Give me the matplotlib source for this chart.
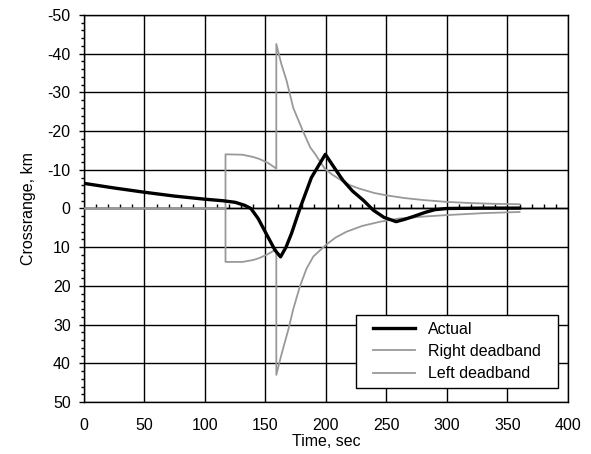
import matplotlib
matplotlib.use("Agg")
import matplotlib.pyplot as plt
from matplotlib.ticker import MultipleLocator, FixedLocator, NullFormatter
from matplotlib.legend_handler import HandlerLine2D

plt.rcParams['font.family'] = ['Liberation Sans', 'DejaVu Sans']
plt.rcParams['axes.unicode_minus'] = False

# Actual crossrange
t_actual = [0, 25, 50, 75, 100, 115, 125, 133, 138, 144, 152, 158, 162.5, 167, 171.6,
            178.5, 188, 199.5, 207, 214, 222, 231, 239, 248, 258, 265, 272, 282, 290,
            300, 330, 360]
v_actual = [-6.5, -5.3, -4.2, -3.2, -2.4, -2.0, -1.6, -0.8, 0.0, 2.6, 7.3, 10.8, 12.5, 10.0, 6.4,
            0.0, -8.0, -14.0, -10.5, -7.3, -4.5, -2.1, 0.4, 2.3, 3.4, 2.8, 2.1, 1.0, 0.3,
            0.0, -0.1, -0.1]

# Right deadband
t_right = [0, 117, 117, 131, 140, 145, 152, 159, 159, 163, 167.5, 173, 181, 187, 191, 199,
           205, 212, 220, 228, 240, 250, 265, 280, 300, 320, 340, 360]
v_right = [0, 0, -14.0, -13.9, -13.3, -12.8, -11.8, -10.3, -42.5, -37.5, -33.0, -26.0, -20.0,
           -15.8, -14.1, -10.3, -8.8, -7.4, -6.0, -5.1, -4.0, -3.4, -2.7, -2.2, -1.7, -1.4,
           -1.2, -1.1]

# Left deadband
t_left = [0, 117, 117, 131, 140, 145, 152, 159, 159, 163, 169, 173, 178.5, 184, 189.6, 200,
          208, 217, 230, 245, 260, 280, 300, 330, 360]
v_left = [0, 0, 13.8, 13.8, 13.3, 12.8, 11.8, 10.5, 43.0, 38.0, 31.2, 26.0, 20.1, 15.5, 12.4,
          9.4, 7.5, 6.0, 4.5, 3.4, 2.6, 2.1, 1.7, 1.2, 0.9]

x_ticks = [0, 50, 100, 150, 200, 250, 300, 350, 400]
y_ticks = [-50, -40, -30, -20, -10, 0, 10, 20, 30, 40, 50]

fig = plt.figure(figsize=(5.91, 4.54), dpi=100)
ax = fig.add_axes([0.142, 0.1145, 0.819, 0.8525])

ax.set_xlim(0, 400)
ax.set_ylim(50, -50)
ax.set_xticks(x_ticks)
ax.set_yticks(y_ticks)
ax.yaxis.set_minor_locator(MultipleLocator(2))
ax.grid(True, which='major', color='black', linewidth=1.0)
ax.set_axisbelow(True)

for s in ax.spines.values():
    s.set_linewidth(1.0)
    s.set_color('black')

ax.tick_params(axis='x', which='both', length=0, labelsize=11.5, pad=11.5, colors='black')
ax.tick_params(axis='y', which='major', direction='out', length=3.5, width=1, labelsize=11.5, pad=6)
ax.tick_params(axis='y', which='minor', direction='out', length=2.5, width=1)

# zero axis line with minor ticks
ax.axhline(0, color='black', linewidth=1.0, zorder=1.5)
sec = ax.secondary_xaxis(0.5)
sec.spines['bottom'].set_visible(False)
sec.xaxis.set_major_locator(FixedLocator(x_ticks))
sec.xaxis.set_minor_locator(MultipleLocator(10))
sec.xaxis.set_major_formatter(NullFormatter())
sec.xaxis.set_minor_formatter(NullFormatter())
sec.tick_params(which='minor', direction='out', length=3, width=1)
sec.tick_params(which='major', length=0)

ax.plot(t_actual, v_actual, color='black', linewidth=2.4, label='Actual', zorder=4)
ax.plot(t_right, v_right, color='#999999', linewidth=1.3, label='Right deadband', zorder=3)
ax.plot(t_left, v_left, color='#999999', linewidth=1.3, label='Left deadband', zorder=3)

ax.set_xlabel('Time, sec', fontsize=11.5, labelpad=1)
ax.set_ylabel('Crossrange, km', fontsize=11.5, labelpad=8)

leg = ax.legend(loc='lower left', bbox_to_anchor=(0.562, 0.0354, 0.4167, 0.0), mode='expand',
                borderaxespad=0.0,
                fontsize=11.5, frameon=True, fancybox=False, framealpha=1, edgecolor='black',
                handlelength=3.25, borderpad=0.45, labelspacing=0.45, handletextpad=0.8,
                handler_map={plt.Line2D: HandlerLine2D(xpad=0.62)})
leg.get_frame().set_linewidth(1.0)

fig.savefig('out.png', dpi=100)
